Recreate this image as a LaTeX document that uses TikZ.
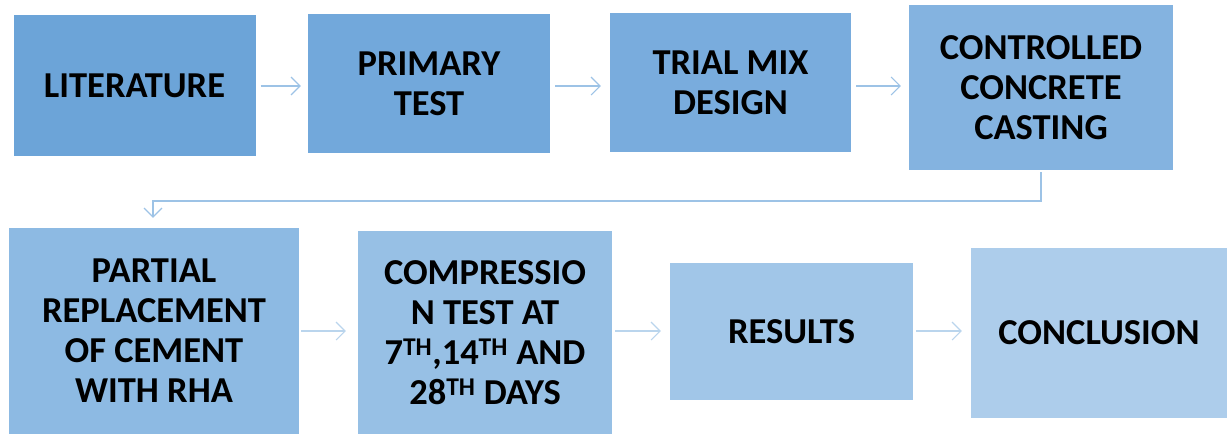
\documentclass[tikz,border=0pt]{standalone}
\usepackage{fontspec}
\setmainfont{Carlito}
\usepackage{tikz}
\usetikzlibrary{arrows.meta,positioning}

\begin{document}
\begin{tikzpicture}[x=1pt,y=-1pt,
    stepbox/.style={inner sep=0pt, align=center,
      font=\bfseries\fontsize{36.5}{40}\selectfont},
    flow/.style={draw=arrowblue, line width=1.3pt,
      -{Straight Barb[length=9pt,width=18pt,line width=1.1pt]}}]
    \definecolor{c1}{HTML}{6CA4D8}
    \definecolor{c2}{HTML}{72A8DB}
    \definecolor{c3}{HTML}{79ACDD}
    \definecolor{c4}{HTML}{84B3E0}
    \definecolor{c5}{HTML}{8DBAE3}
    \definecolor{c6}{HTML}{97C0E5}
    \definecolor{c7}{HTML}{A1C6E8}
    \definecolor{c8}{HTML}{ADCDEB}
    \definecolor{arrowblue}{HTML}{9DC3E6}
    \useasboundingbox (0,0) rectangle (1227,434);

    % first row
    \node[stepbox, fill=c1, minimum width=242, minimum height=141]
      (lit) at (134.5,85.5) {LITERATURE};
    \node[stepbox, fill=c2, minimum width=242, minimum height=139]
      (prim) at (429,83.5) {PRIMARY\\TEST};
    \node[stepbox, fill=c3, minimum width=241, minimum height=139]
      (trial) at (730.5,82.5) {TRIAL MIX\\DESIGN};
    \node[stepbox, fill=c4, minimum width=264, minimum height=165]
      (ctrl) at (1041,87.5) {CONTROLLED\\CONCRETE\\CASTING};

    % second row
    \node[stepbox, fill=c5, minimum width=290, minimum height=206]
      (part) at (154,331) {PARTIAL\\REPLACEMENT\\OF CEMENT\\WITH RHA};
    \node[stepbox, fill=c6, minimum width=254, minimum height=203]
      (comp) at (485,332.5)
      {COMPRESSIO\\N TEST AT\\7\textsuperscript{TH},14\textsuperscript{TH} AND\\28\textsuperscript{TH} DAYS};
    \node[stepbox, fill=c7, minimum width=243, minimum height=137]
      (res) at (791.5,331.5) {RESULTS};
    \node[stepbox, fill=c8, minimum width=256, minimum height=170]
      (concl) at (1099,333) {CONCLUSION};

    % connectors
    \draw[flow] ([xshift=5pt]lit.east |- 0,86) -- ([xshift=-7pt]prim.west |- 0,86);
    \draw[flow] ([xshift=5pt]prim.east |- 0,86) -- ([xshift=-9pt]trial.west |- 0,86);
    \draw[flow] ([xshift=5pt]trial.east |- 0,86) -- ([xshift=-8pt]ctrl.west |- 0,86);
    \draw[flow] ([yshift=-2pt]ctrl.south) |- (153,201) -- ([yshift=10pt]part.north -| 153,0);
    \draw[flow, draw=arrowblue!70!white] ([xshift=2pt]part.east |- 0,331) -- ([xshift=-12pt]comp.west |- 0,331);
    \draw[flow, draw=arrowblue!70!white] ([xshift=3pt]comp.east |- 0,331) -- ([xshift=-9pt]res.west |- 0,331);
    \draw[flow, draw=arrowblue!70!white] ([xshift=3pt]res.east |- 0,331) -- ([xshift=-9pt]concl.west |- 0,331);
\end{tikzpicture}
\end{document}
